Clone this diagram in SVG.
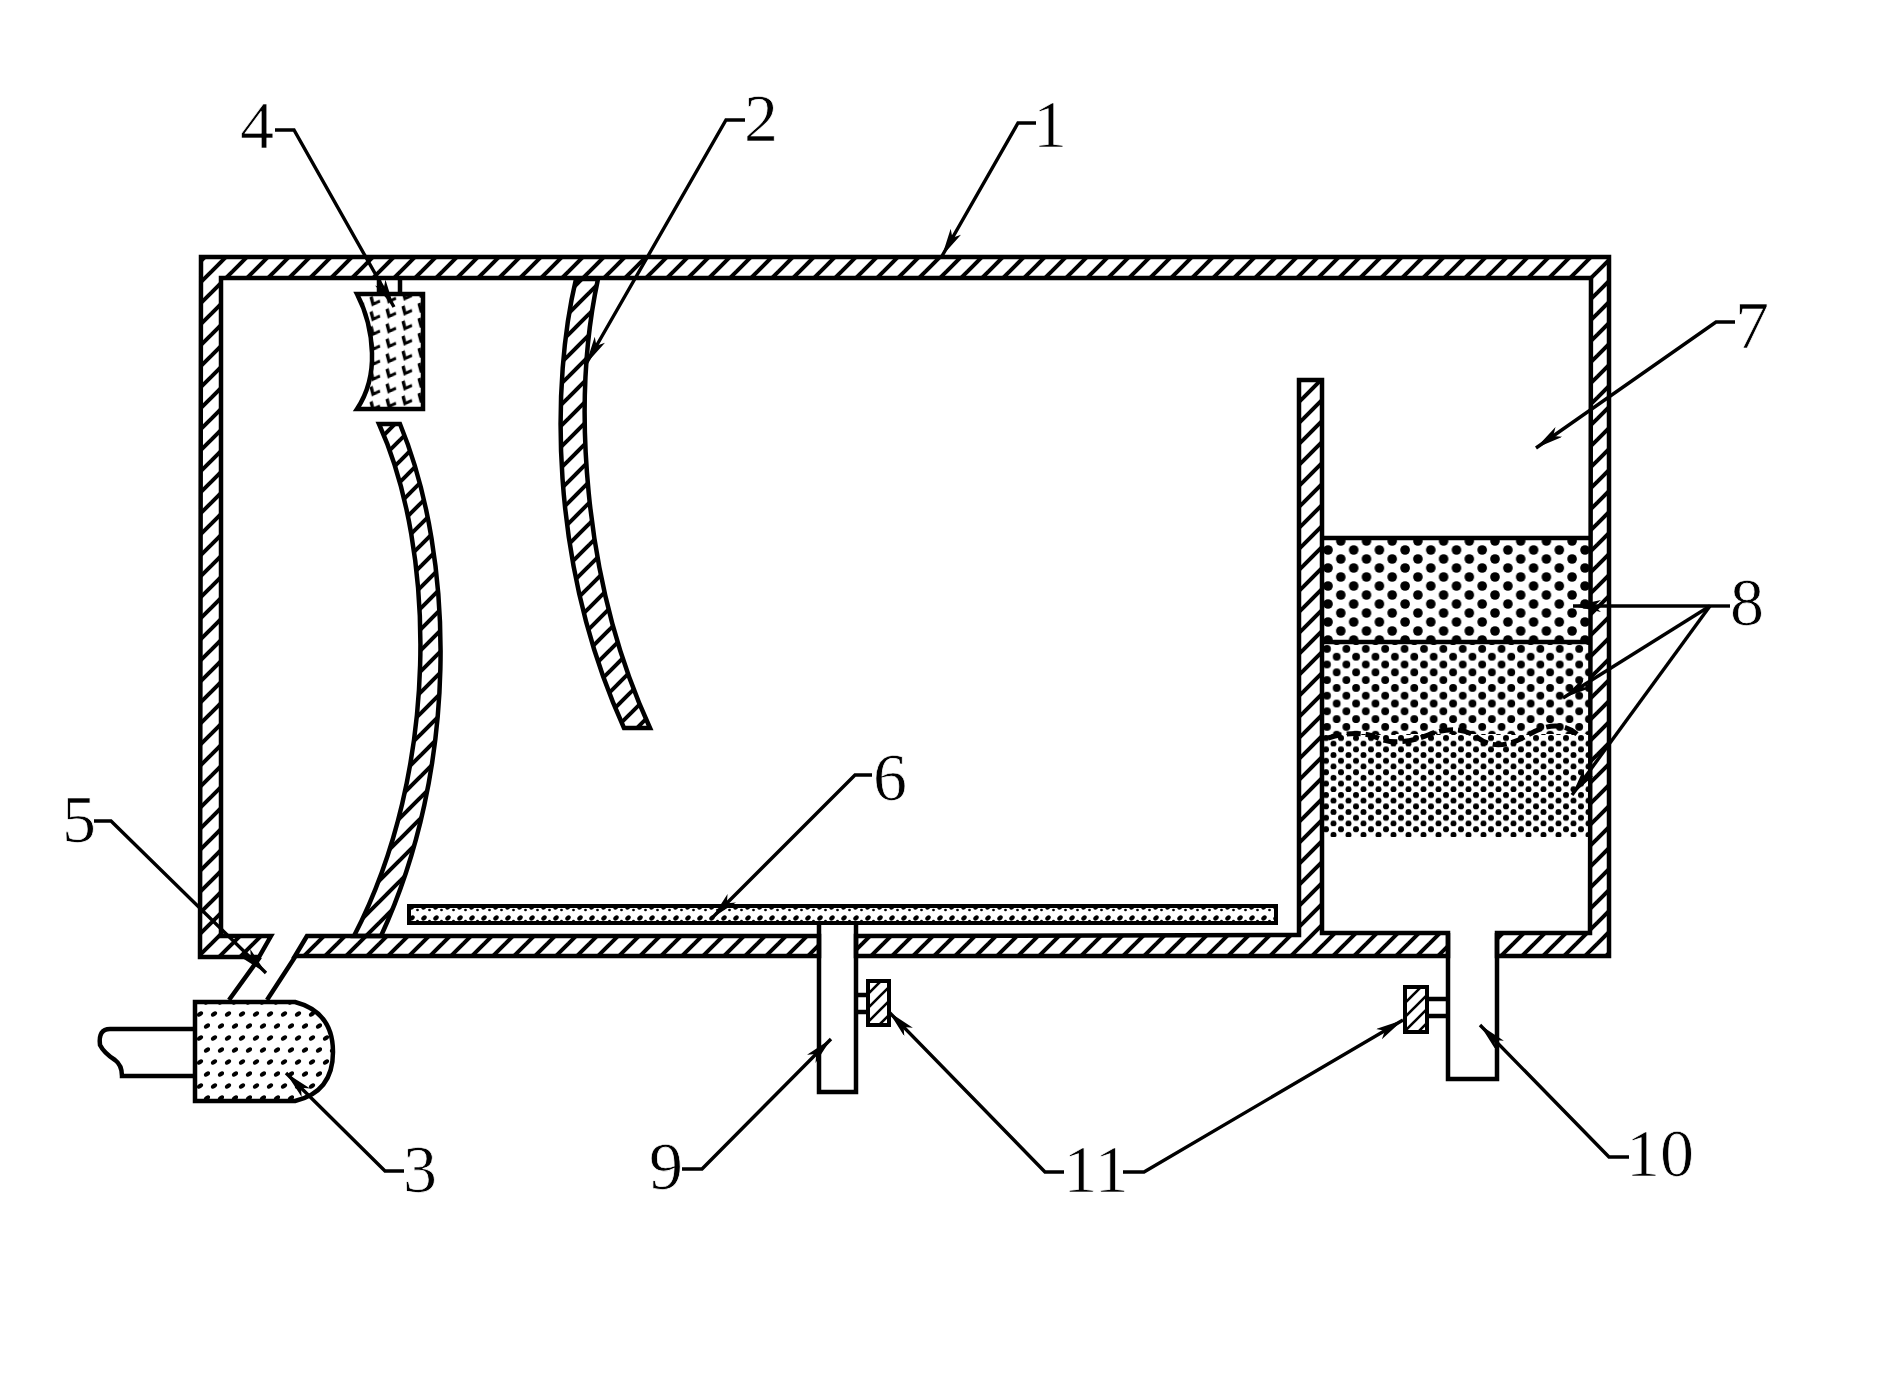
<svg xmlns="http://www.w3.org/2000/svg" width="1893" height="1374" viewBox="0 0 1893 1374">
<style>
.o{stroke:#000;stroke-width:4.5;stroke-linejoin:miter;fill:none}
.h{fill:url(#hatch);stroke:#000;stroke-width:4.5}
.l{fill:none;stroke:#000;stroke-width:3.4;marker-end:url(#ah)}
.d{fill:none;stroke:#000;stroke-width:3.4}
.t{font-family:"Liberation Serif",serif;font-size:68px;fill:#000;text-anchor:middle;stroke:#fff;stroke-width:.7}
</style>
<defs>
<marker id="ah" markerUnits="userSpaceOnUse" markerWidth="30" markerHeight="14" refX="28" refY="6" orient="auto"><path d="M0 0L28 6L0 12L7 6Z" fill="#000"/></marker>
<pattern id="hatch" patternUnits="userSpaceOnUse" width="21" height="21"><path d="M-3 24L24 -3" stroke="#000" stroke-width="4"/><path d="M-3 3L3 -3M18 24L24 18" stroke="#000" stroke-width="4"/></pattern>
<pattern id="hatchS" patternUnits="userSpaceOnUse" width="14" height="14"><path d="M-2 16L16 -2M-2 2L2 -2M12 16L16 12" stroke="#000" stroke-width="2.6"/></pattern>
<pattern id="ell" patternUnits="userSpaceOnUse" width="16" height="15" patternTransform="skewY(-10)"><path d="M3 2L5 10L12 8" fill="none" stroke="#000" stroke-width="3.2"/></pattern>
<pattern id="spk" patternUnits="userSpaceOnUse" width="14" height="24"><ellipse cx="4" cy="6" rx="3.4" ry="2.2" transform="rotate(-35 4 6)"/><ellipse cx="11" cy="18" rx="3.4" ry="2.2" transform="rotate(-35 11 18)"/></pattern>
<pattern id="pl" patternUnits="userSpaceOnUse" width="12" height="11"><ellipse cx="4" cy="5" rx="3" ry="2.2" transform="rotate(-40 4 5)"/><ellipse cx="9.5" cy="8" rx="1.4" ry="1.2"/></pattern>
<pattern id="f1" patternUnits="userSpaceOnUse" x="1322" y="541" width="25.7" height="18"><circle cx="6" cy="9" r="4.8"/><circle cx="18.8" cy="0" r="4.8"/><circle cx="18.8" cy="18" r="4.8"/></pattern>
<pattern id="f2" patternUnits="userSpaceOnUse" x="1322" y="645" width="19.4" height="15.6"><circle cx="5" cy="4" r="3.9"/><circle cx="14.7" cy="11.8" r="3.9"/></pattern>
<pattern id="f3" patternUnits="userSpaceOnUse" x="1322" y="735" width="15" height="11.4"><circle cx="4" cy="3" r="3"/><circle cx="11.5" cy="8.7" r="3"/></pattern>
</defs>
<rect width="1893" height="1374" fill="#fff"/>
<g id="filter-8">
<rect x="1322" y="538" width="270" height="104" fill="url(#f1)"/>
<rect x="1322" y="642" width="270" height="92" fill="url(#f2)"/>
<rect x="1322" y="734" width="270" height="103" fill="url(#f3)"/>
<path class="o" d="M1322 538H1592M1322 642H1592"/>
<path d="M1328 738q30-9 50 0t50-3 50 3 50-3 50 0" fill="none" stroke="#000" stroke-width="5" stroke-dasharray="14 5"/>
</g>
<g id="housing-1">
<path class="h" d="M271 936L259 957H200L201 257H1609V956H1497V933H1590L1591 278H221V936Z"/>
<path class="h" d="M307 936L295 956H819V936Z"/>
<path class="h" d="M856 936L1299 935V380H1322V933H1448V956H856Z"/>
</g>
<g id="reflector-2">
<path class="h" d="M576 279C552 380 548 560 624 728H650C582 580 572 400 598 279Z"/>
<path class="h" d="M379 424C436 550 440 770 354 936H381C458 770 456 560 400 424Z"/>
</g>
<g id="lens-4">
<path class="o" d="M379 279V294M400 279V294"/>
<path d="M357 294H423V409H357Q373 385 372 353T357 294Z" fill="url(#ell)" stroke="#000" stroke-width="4.5"/>
</g>
<g id="lamp-3">
<path d="M195 1002H295Q333 1012 333 1052T295 1101H195Z" fill="url(#spk)" stroke="#000" stroke-width="4.5"/>
<path class="o" d="M195 1029H110Q98 1029 100 1045Q104 1053 115 1060Q122 1065 122 1076H195"/>
<path class="o" d="M260 957L229 1000M295 957L267 1000"/>
</g>
<g id="plate-6">
<rect x="409" y="906" width="867" height="17" fill="url(#pl)" stroke="#000" stroke-width="4"/>
</g>
<g id="tube-9">
<path class="o" d="M819 923V1092H856V923"/>
<rect x="868" y="981" width="21" height="44" fill="url(#hatchS)" stroke="#000" stroke-width="4"/>
<path class="o" d="M856 995H868M856 1012H868"/>
</g>
<g id="tube-10">
<path class="o" d="M1448 933V1079H1497V933"/>
<rect x="1405" y="987" width="22" height="45" fill="url(#hatchS)" stroke="#000" stroke-width="4"/>
<path class="o" d="M1427 999H1448M1427 1016H1448"/>
</g>
<g id="connectors">
<path class="l" d="M1036 123H1018L942 256"/>
<path class="l" d="M745 120H726L586 364"/>
<path class="l" d="M275 130H294L394 307"/>
<path class="l" d="M404 1171H385L286 1073"/>
<path class="l" d="M94 821H111L266 973"/>
<path class="l" d="M872 775H855L712 918"/>
<path class="l" d="M1735 322H1716L1536 448"/>
<path class="d" d="M1730 606H1710"/>
<path class="l" d="M1710 606H1573"/>
<path class="l" d="M1710 606L1563 698"/>
<path class="l" d="M1710 606L1572 795"/>
<path class="l" d="M682 1169H702L831 1039"/>
<path class="l" d="M1064 1172H1045L889 1012"/>
<path class="l" d="M1123 1172H1144L1403 1020"/>
<path class="l" d="M1629 1157H1609L1480 1025"/>
</g>
<g id="labels">
<text class="t" x="1050" y="147">1</text>
<text class="t" x="761" y="141">2</text>
<text class="t" x="420" y="1192">3</text>
<text class="t" x="257" y="148">4</text>
<text class="t" x="79" y="842">5</text>
<text class="t" x="890" y="800">6</text>
<text class="t" x="1752" y="348">7</text>
<text class="t" x="1747" y="625">8</text>
<text class="t" x="666" y="1189">9</text>
<text class="t" x="1096" y="1192">11</text>
<text class="t" x="1660" y="1176">10</text>
</g>
</svg>
